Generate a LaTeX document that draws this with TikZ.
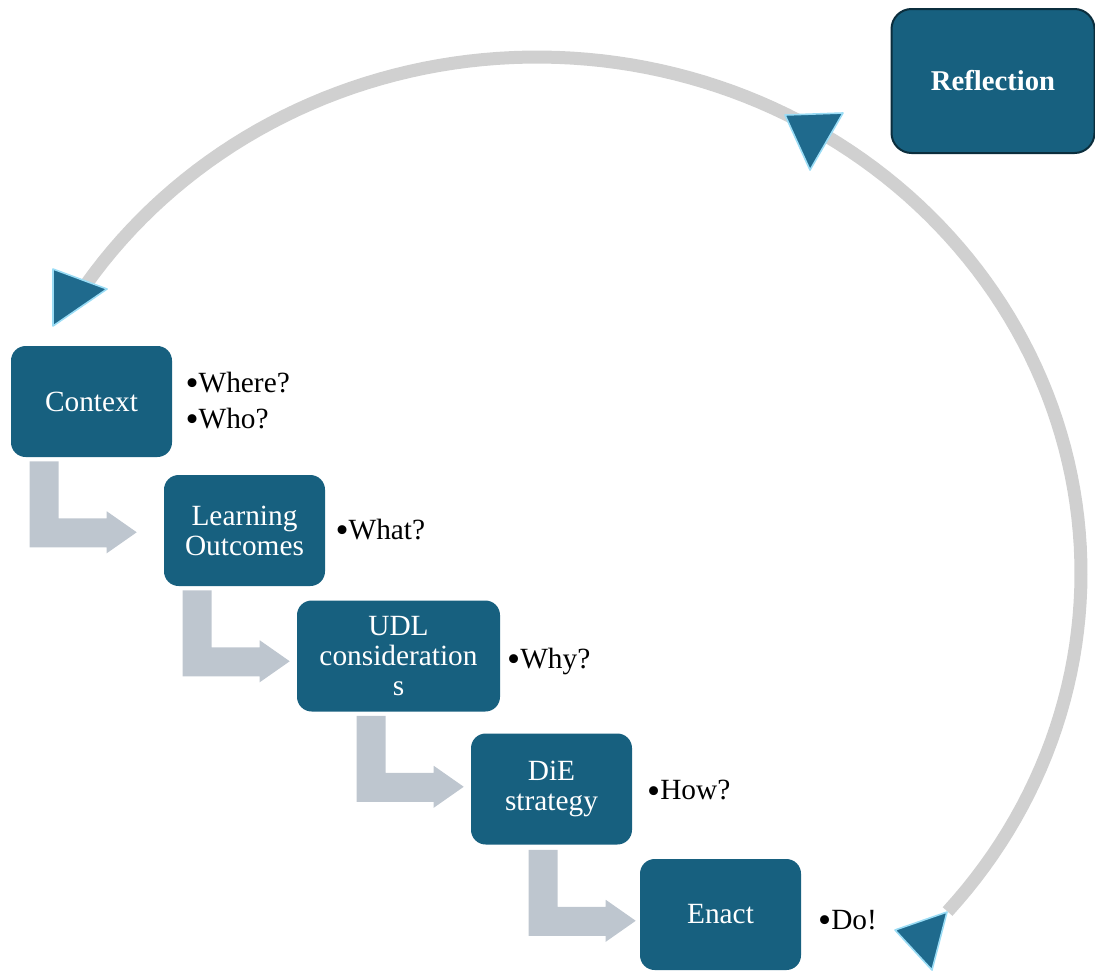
\documentclass[tikz,border=0pt]{standalone}
\usepackage{fontspec}
\setmainfont{Liberation Serif}
\usetikzlibrary{positioning,calc}

\definecolor{boxblue}{HTML}{17607F}
\definecolor{boxedge}{HTML}{0B2E3D}
\definecolor{tipblue}{HTML}{1F6A8D}
\definecolor{tipglow}{HTML}{9ADCF5}
\definecolor{stepgray}{HTML}{BEC6CF}
\definecolor{cyclegray}{HTML}{D0D0D0}

\newcommand{\qdot}{\raisebox{-2.5pt}{\fontsize{28}{27}\selectfont•}}

\tikzset{
  stage/.style={rectangle, rounded corners=11pt, fill=boxblue, text=white,
    align=center, minimum width=120.75pt, minimum height=83.25pt, inner sep=2pt,
    font=\fontsize{22}{22.5}\selectfont},
  note/.style={align=left, inner sep=0pt, font=\fontsize{22}{27}\selectfont},
  cycletip/.style={fill=tipblue, draw=tipglow, line width=1.2pt, line join=round},
  bent/.style={fill=stepgray},
}
\newcommand{\bentarrow}[1]{%
  \fill[bent,shift={(#1)}] (0,0) -- (29,0) -- (29,57) -- (77,57) -- (77,50)
    -- (107,71) -- (77,92) -- (77,86) -- (0,86) -- cycle;}

\begin{document}
\begin{tikzpicture}[x=0.75pt,y=-0.75pt]
\useasboundingbox (0,0) rectangle (1095,971);
% the reflection cycle
\draw[cyclegray,line width=9.75pt] plot[domain=-41:146,samples=120]
  ({537+544*cos(\x)},{573-516*sin(\x)});
\draw[cycletip] (53,269) -- (107,289) -- (53,326) -- cycle;
\draw[cycletip] (785,115) -- (843,113) -- (810,170) -- cycle;
\draw[cycletip] (895,930) -- (947,912) -- (932,970) -- cycle;

% stages
\node[stage] (ctx) at (91.5,401.5) {Context};
\node[stage] (lo) at (244.5,530.5) {Learning\\Outcomes};
\node[stage,minimum width=152.25pt] (udl) at (398.5,656) {UDL\\consideration\\s};
\node[stage] (die) at (551.5,789) {DiE\\strategy};
\node[stage] (enact) at (720.5,914.5) {Enact};
\node[stage,minimum width=152.25pt,minimum height=108pt,rounded corners=15pt,
  draw=boxedge,line width=1.5pt,font=\bfseries\fontsize{21.5}{24}\selectfont]
  (refl) at (993,81) {Reflection};

% questions
\node[note,right=9.75pt of ctx] (ctxq) {\qdot Where?\\\qdot Who?};
\node[note,right=7.5pt of lo] (loq) {\qdot What?};
\node[note,right=5pt of udl,yshift=-4pt] (udlq) {\qdot Why?};
\node[note,right=11pt of die,yshift=-2pt] (dieq) {\qdot How?};
\node[note,right=12.5pt of enact,yshift=-5pt] (enactq) {\qdot Do!};

% steps
\bentarrow{$(ctx.south west)+(19,4)$}
\bentarrow{$(lo.south west)+(19,4)$}
\bentarrow{$(udl.south west)+(60,4)$}
\bentarrow{$(die.south west)+(58,5)$}
\end{tikzpicture}
\end{document}
